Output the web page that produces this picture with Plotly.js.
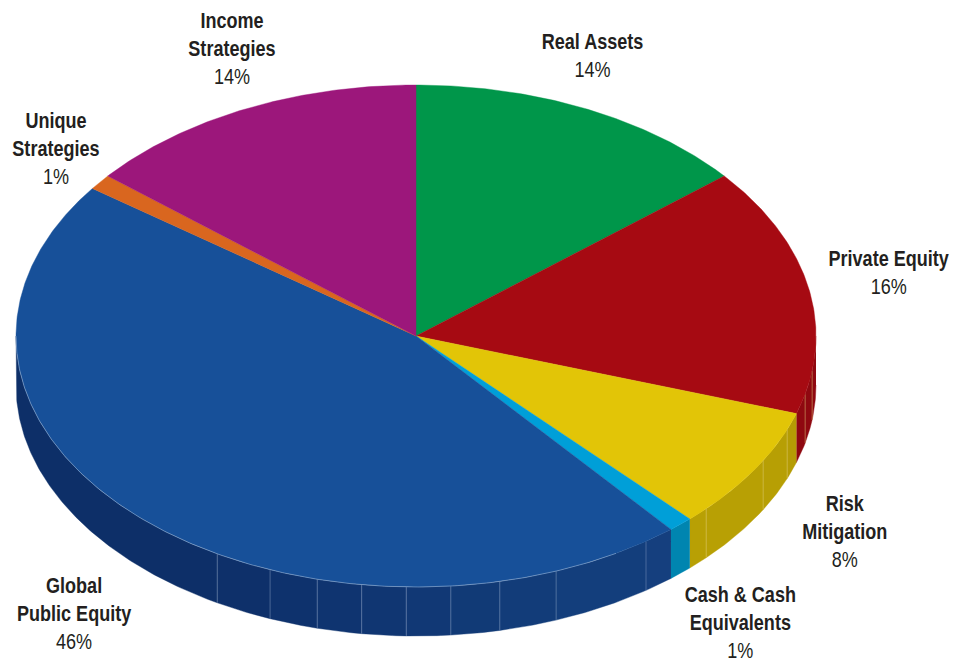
<!DOCTYPE html>
<html>
<head>
<meta charset="utf-8">
<script src="https://cdn.plot.ly/plotly-3.0.1.min.js"></script>
<style>html,body{margin:0;padding:0;background:#fff;overflow:hidden}#chart{width:966px;height:662px}</style>
</head>
<body>
<div id="chart"></div>
<script>
// Asset allocation, in percent, clockwise from twelve o'clock
const categories = ['Real Assets', 'Private Equity', 'Risk Mitigation', 'Cash & Cash Equivalents', 'Global Public Equity', 'Unique Strategies', 'Income Strategies'];
const shares = [14, 16, 8, 1, 46, 1, 14];
const labelLines = [['Real Assets'], ['Private Equity'], ['Risk', 'Mitigation'], ['Cash & Cash', 'Equivalents'], ['Global', 'Public Equity'], ['Unique', 'Strategies'], ['Income', 'Strategies']];
const topColors = ['#00964a', '#a60a12', '#e2c507', '#009fd8', '#175099', '#d9661f', '#9c177b'];

// Label centres on the page
const labelX = [592, 888, 845, 740, 74, 56, 232];
const labelY = [56, 273, 532, 623, 614, 149, 49];

// Front wall of the disc: facet boundaries in degrees clockwise from the top, and facet shades
const facetStops = [90, 98, 103.4, 108, 111.9, 119.8, 133.5, 136.8, 140.4, 144.9, 159.5, 167.9, 175, 181.4, 187.8, 194.3, 201.4, 209.8, 270];
const facetColors = ['#8f0810', '#8f0810', '#8f0810', '#b59c04', '#b79f04', '#b8a004', '#b8a004', '#0085b0', '#153f7e', '#133e7c', '#123c79', '#113a76', '#113875', '#103672', '#0f3470', '#0e326d', '#0e306a', '#0d2f68'];

// Disc geometry on the page
const cx = 416, cy = 336, rx = 400, ry = 251, depth = 49;
const rad = d => d * Math.PI / 180;
const px = d => cx + rx * Math.sin(rad(d));
const py = d => cy - ry * Math.cos(rad(d));

function arc(from, to) {
  const n = Math.max(2, Math.ceil(Math.abs(to - from) / 0.5));
  const a = [];
  for (let i = 0; i <= n; i++) a.push(from + (to - from) * i / n);
  return a;
}

const traces = [];

// Wall facets
facetColors.forEach((color, i) => {
  const upper = arc(facetStops[i], facetStops[i + 1]);
  const lower = upper.slice().reverse();
  traces.push({
    type: 'scatter', mode: 'lines', fill: 'toself', fillcolor: color,
    x: upper.map(px).concat(lower.map(px)),
    y: upper.map(py).concat(lower.map(d => py(d) + depth)),
    line: {color: color, width: 0.4}, hoverinfo: 'skip', showlegend: false
  });
});

// Pale seams between facets
facetStops.slice(1, -1).forEach(d => {
  if (d === 108 || d === 136.8 || d === 140.4) return;
  traces.push({
    type: 'scatter', mode: 'lines', x: [px(d), px(d)], y: [py(d), py(d) + depth],
    line: {color: d < 136 ? 'rgba(225,205,110,0.45)' : 'rgba(150,172,205,0.4)', width: 1},
    hoverinfo: 'skip', showlegend: false
  });
});

// Top face slices, built from the shares
let running = 0;
shares.forEach((share, i) => {
  const start = running / 100 * 360;
  running += share;
  const end = running / 100 * 360;
  const rim = arc(start, end);
  traces.push({
    type: 'scatter', mode: 'lines', fill: 'toself', fillcolor: topColors[i], name: categories[i],
    x: [cx].concat(rim.map(px), [cx]),
    y: [cy].concat(rim.map(py), [cy]),
    line: {color: topColors[i], width: 0.4}, hoverinfo: 'skip', showlegend: false
  });
});

// Light highlight along the front rim
const rimArc = arc(150, 270);
traces.push({
  type: 'scatter', mode: 'lines', x: rimArc.map(px), y: rimArc.map(py),
  line: {color: 'rgba(190,208,232,0.55)', width: 0.8}, hoverinfo: 'skip', showlegend: false
});

const annotations = categories.map((c, i) => ({
  x: labelX[i], y: labelY[i], xref: 'x', yref: 'y', xanchor: 'center', yanchor: 'middle', showarrow: false,
  align: 'center',
  text: labelLines[i].map(l => '<b>' + l.replace('&', '&amp;') + '</b>').join('<br>') + '<br>' + shares[i] + '%',
  font: {family: '"Liberation Sans", sans-serif', size: 21.5, color: '#231f20'}
}));

// The labels are set in a condensed cut, so narrow each one about its own centre
const labelNarrowing = 0.84;

Plotly.newPlot('chart', traces, {
  width: 966, height: 662,
  margin: {l: 0, r: 0, t: 0, b: 0},
  paper_bgcolor: '#fff', plot_bgcolor: '#fff',
  xaxis: {range: [0, 966], visible: false, fixedrange: true},
  yaxis: {range: [662, 0], visible: false, fixedrange: true},
  annotations: annotations,
  showlegend: false
}, {displayModeBar: false, staticPlot: true}).then(() => {
  document.querySelectorAll('#chart .annotation-text').forEach(t => {
    const box = t.getBBox();
    const mid = box.x + box.width / 2;
    const prior = t.getAttribute('transform') || '';
    t.setAttribute('transform', prior + ' translate(' + mid + ',0) scale(' + labelNarrowing + ',1) translate(' + (-mid) + ',0)');
  });
});
</script>
</body>
</html>
